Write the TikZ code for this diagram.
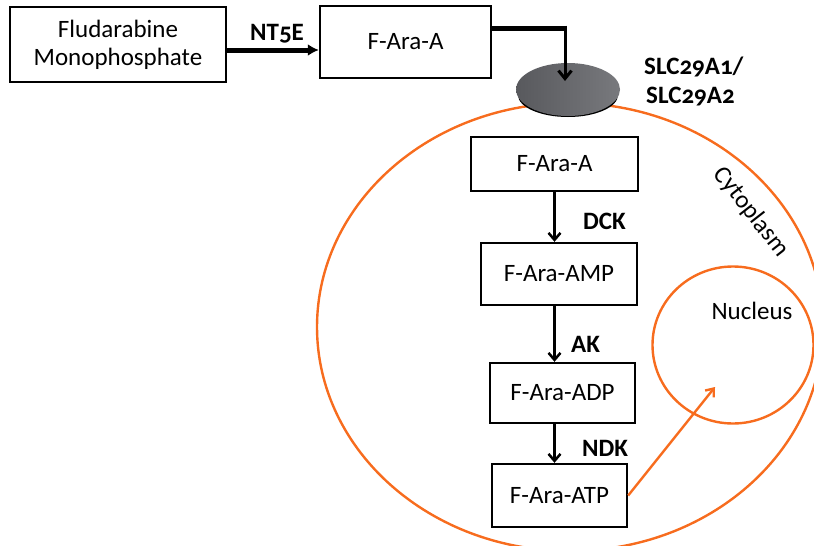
\documentclass[tikz,border=0pt]{standalone}
\usepackage{fontspec}
\setmainfont{Carlito}[Numbers=OldStyle]
\usetikzlibrary{arrows.meta,shapes.geometric}
\definecolor{cellorange}{RGB}{247,108,30}
\definecolor{memdark}{RGB}{88,89,93}
\definecolor{memlight}{RGB}{120,121,125}
\begin{document}
\begin{tikzpicture}[x=1pt,y=-1pt,
  box/.style={draw,line width=2.4pt,inner sep=0pt,font=\fontsize{25}{28}\selectfont,align=center},
  enz/.style={font=\fontsize{25}{28}\selectfont\bfseries,anchor=base west,inner sep=0pt},
  lbl/.style={font=\fontsize{25}{28}\selectfont,inner sep=0pt},
  darr/.style={line width=2.5pt,-{Straight Barb[length=7pt,width=12pt,line width=2.5pt]}},
  orng/.style={draw=cellorange,line width=2.4pt},
]
\useasboundingbox (0,0) rectangle (814,546);
\clip (0,0) rectangle (814,546);

% cell and nucleus
\node[ellipse,orng,minimum width=506pt,minimum height=448pt,inner sep=0pt] (cell) at (570,327) {};
\node[ellipse,orng,minimum width=161pt,minimum height=157pt,inner sep=0pt] (nuc) at (733,345) {};

% transporter
\fill[black] (568,95) ellipse [x radius=50, y radius=22];
\node[ellipse,left color=memdark,right color=memlight,minimum width=104pt,minimum height=53pt,inner sep=0pt] (mem) at (568,89.5) {};

% boxes
\node[box,minimum width=216pt,minimum height=75pt] (fmp) at (118,44.5) {Fludarabine\\Monophosphate};
\node[box,minimum width=171pt,minimum height=72pt] (fa1) at (405.5,42) {F-Ara-A};
\node[box,minimum width=167pt,minimum height=54pt] (fa2) at (554.5,164) {F-Ara-A};
\node[box,minimum width=156pt,minimum height=62pt] (amp) at (559,274) {F-Ara-AMP};
\node[box,minimum width=145pt,minimum height=60pt] (adp) at (562.5,393) {F-Ara-ADP};
\node[box,minimum width=135pt,minimum height=63pt] (atp) at (559.5,495.5) {F-Ara-ATP};

% NT5E arrow
\draw[line width=5pt,-{Latex[length=11pt,width=12pt]}] ([yshift=-5.5pt]fmp.east) -- ([yshift=-5.5pt]fmp.east -| fa1.west);

% elbow to transporter
\coordinate (kink) at (565,28);
\coordinate (tip) at (565,81);
\draw[line width=5pt] (fa1.east |- kink) -- ([xshift=1.5pt]kink);
\draw[line width=3pt,-{Straight Barb[length=8pt,width=13pt,line width=3pt]}] ([yshift=2.5pt]kink) -- (tip);

% pathway arrows
\draw[darr] (fa2.south) -- (fa2.south |- amp.north);
\draw[darr] (amp.south -| fa2.south) -- (adp.north -| fa2.south);
\draw[darr] (adp.south -| fa2.south) -- (atp.north -| fa2.south);

% to nucleus
\coordinate (ntip) at (715,387);
\draw[orng,-{Straight Barb[length=7pt,width=11pt,line width=2.4pt]}] (atp.east) -- (ntip);

% labels
\node[enz] (nt5e) at (250,40) {NT5E};
\node[enz] (slc1) at (644,74) {SLC29A1/};
\node[enz] (slc2) at (646,103) {SLC29A2};
\node[enz] (dck) at (583,229) {DCK};
\node[enz] (ak) at (571,352) {AK};
\node[enz] (ndk) at (582,456) {NDK};
\node[lbl,rotate=-52] (cyto) at (751,212) {Cytoplasm};
\node[lbl] (nuclbl) at (752,311) {Nucleus};
\end{tikzpicture}
\end{document}
